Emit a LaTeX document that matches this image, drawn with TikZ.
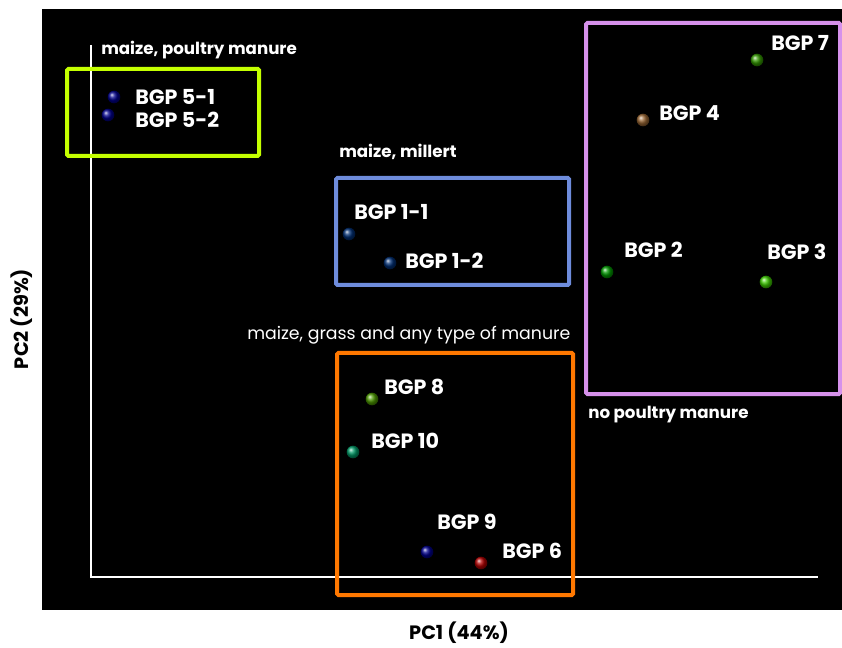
\documentclass[tikz,border=0pt]{standalone}
\usepackage{fontspec}
\setmainfont{Poppins}
\usetikzlibrary{positioning,shapes}
\definecolor{limegrp}{RGB}{196,255,0}
\definecolor{bluegrp}{RGB}{110,140,220}
\definecolor{violetgrp}{RGB}{214,145,235}
\definecolor{orangegrp}{RGB}{255,120,0}
\tikzset{
  smp/.style={circle, inner sep=0pt, minimum size=9.5pt, ball color=#1},
  smplbl/.style={anchor=west, text=white, font=\bfseries\fontsize{15.5}{15.5}\selectfont, inner sep=0pt},
  grplbl/.style={anchor=west, text=white, font=\bfseries\fontsize{12.5}{12.5}\selectfont, inner sep=0pt},
  grpbox/.style={draw=#1, line width=3pt, rounded corners=1pt},
  axlbl/.style={text=black, font=\bfseries\fontsize{14.5}{14.5}\selectfont, inner sep=0pt}
}
\begin{document}
\begin{tikzpicture}[x=0.75pt, y=-0.75pt]
    % canvas
    \useasboundingbox[fill=white] (0,0) rectangle (842,648);
    \fill[black] (42,9) rectangle (842,610);
    % axes
    \coordinate (origin) at (91,577);
    \coordinate (ytop) at (91,45);
    \coordinate (xend) at (818,577);
    \draw[white, line width=2.2pt] (ytop) -- (origin) -- (xend);
    \node[axlbl] (pcone) at (459,633) {PC1 (44\%)};
    \node[axlbl, rotate=90] (pctwo) at (22,319) {PC2 (29\%)};

    % groups
    \draw[grpbox=limegrp] (67,69) rectangle (259,156);
    \node[grplbl] (gfive) at (101,50) {maize, poultry manure};
    \draw[grpbox=bluegrp] (336,178) rectangle (569,285);
    \node[grplbl] (gone) at (339,152) {maize, millert};
    \draw[grpbox=violetgrp] (586,23) rectangle (840,394);
    \node[grplbl] (gnop) at (588,415) {no poultry manure};
    \draw[grpbox=orangegrp] (337,353) rectangle (573,595);
    \node[grplbl, font=\fontsize{13}{13}\selectfont] (gmix) at (247,335) {maize, grass and any type of manure};

    % samples
    \node[smp={blue!55!black}] (s51) at (114,97) {};
    \node[smplbl] (l51) at (135,97) {BGP 5-1};
    \node[smp={blue!55!black}] (s52) at (108,115) {};
    \node[smplbl] (l52) at (135,120) {BGP 5-2};
    \node[smp={cyan!40!blue!45!black}] (s11) at (349,234) {};
    \node[smplbl] (l11) at (354,212) {BGP 1-1};
    \node[smp={cyan!40!blue!45!black}] (s12) at (390,263) {};
    \node[smplbl] (l12) at (405,261) {BGP 1-2};
    \node[smp={green!50!black!80!yellow}] (s7) at (757,60) {};
    \node[smplbl] (l7) at (771,43) {BGP 7};
    \node[smp={brown!80!black}] (s4) at (643,120) {};
    \node[smplbl] (l4) at (659,113) {BGP 4};
    \node[smp={green!60!black}] (s2) at (607,272) {};
    \node[smplbl] (l2) at (624,250) {BGP 2};
    \node[smp={green!70!yellow!80!black}] (s3) at (766,282) {};
    \node[smplbl] (l3) at (767,252) {BGP 3};
    \node[smp={green!50!yellow!60!black}] (s8) at (372,399) {};
    \node[smplbl] (l8) at (384,387) {BGP 8};
    \node[smp={teal!80!green}] (s10) at (353,452) {};
    \node[smplbl] (l10) at (371,441) {BGP 10};
    \node[smp={blue!55!black}] (s9) at (427,552) {};
    \node[smplbl] (l9) at (437,522) {BGP 9};
    \node[smp={red!70!black}] (s6) at (481,563) {};
    \node[smplbl] (l6) at (502,551) {BGP 6};
\end{tikzpicture}
\end{document}
